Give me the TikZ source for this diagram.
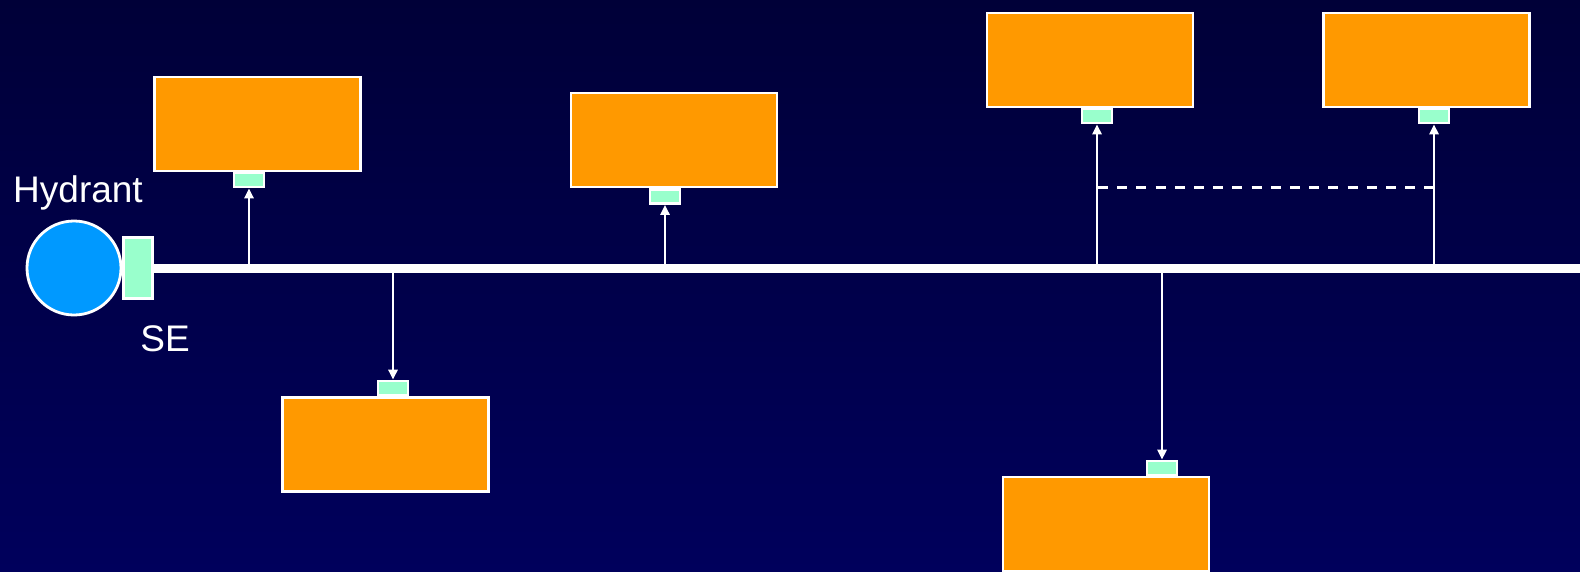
\documentclass[tikz,border=0pt]{standalone}
\usepackage{fontspec}
\setmainfont{Liberation Sans}
\usetikzlibrary{arrows.meta, positioning}
\definecolor{nighttop}{RGB}{0,0,56}
\definecolor{nightbottom}{RGB}{0,0,92}
\definecolor{tank}{RGB}{255,153,0}
\definecolor{valve}{RGB}{153,255,204}
\definecolor{water}{RGB}{0,153,255}

\tikzset{
  tankbox/.style={draw=white, line width=2.6pt, fill=tank,
    minimum width=206pt, minimum height=94pt, inner sep=0pt},
  valvebox/.style={draw=white, line width=2.6pt, fill=valve,
    minimum width=30pt, minimum height=14pt, inner sep=0pt},
  feed/.style={draw=white, line width=2.6pt, -{Triangle[length=10pt,width=9pt]}},
  label/.style={text=white, font=\fontsize{37}{42}\selectfont, inner sep=0pt},
}

\begin{document}
\begin{tikzpicture}[x=1pt, y=-1pt]
  % background
  \fill[top color=nighttop, bottom color=nightbottom] (0,0) rectangle (1580,571);
  \useasboundingbox (0,0) rectangle (1580,571);

  % hydrant and standpipe
  \node[circle, draw=white, line width=2.8pt, fill=water, minimum size=94pt, inner sep=0pt]
    (hydrant) at (74,268) {};
  \node[draw=white, line width=2.6pt, fill=valve, minimum width=29pt, minimum height=61pt, inner sep=0pt]
    (se) at (138,268) {};
  \node[label] (hydrantlabel) at (78,193) {Hydrant};
  \node[label] (selabel) at (165,339) {SE};

  % main line
  \coordinate (lineend) at (1580,268);
  \draw[white, line width=9pt] (se.east) -- (lineend);

  % tanks
  \node[tankbox] (tankA) at (257.5,124) {};
  \node[tankbox] (tankB) at (674,140) {};
  \node[tankbox] (tankC) at (1090,60) {};
  \node[tankbox] (tankD) at (1426.5,60) {};
  \node[tankbox] (tankE) at (385.5,444.5) {};
  \node[tankbox] (tankF) at (1106,524) {};

  % valves
  \node[valvebox] (valveA) at (249,180) {};
  \node[valvebox] (valveB) at (665,196.5) {};
  \node[valvebox] (valveC) at (1097,116) {};
  \node[valvebox] (valveD) at (1434,116) {};
  \node[valvebox] (valveE) at (393,388) {};
  \node[valvebox] (valveF) at (1162,468) {};

  % taps on the main line
  \coordinate (tapA) at (249,268);
  \coordinate (tapB) at (665,268);
  \coordinate (tapC) at (1097,268);
  \coordinate (tapD) at (1434,268);
  \coordinate (tapE) at (393,268);
  \coordinate (tapF) at (1162,268);

  \draw[feed] (tapA) -- (valveA.south);
  \draw[feed] (tapB) -- (valveB.south);
  \draw[feed] (tapC) -- (valveC.south);
  \draw[feed] (tapD) -- (valveD.south);
  \draw[feed] (tapE) -- (valveE.north);
  \draw[feed] (tapF) -- (valveF.north);

  % cross link
  \coordinate (linkC) at (1098,187);
  \coordinate (linkD) at (1434,187);
  \draw[white, line width=3pt, dash pattern=on 10pt off 9.2pt] (linkC) -- (linkD);
\end{tikzpicture}
\end{document}
